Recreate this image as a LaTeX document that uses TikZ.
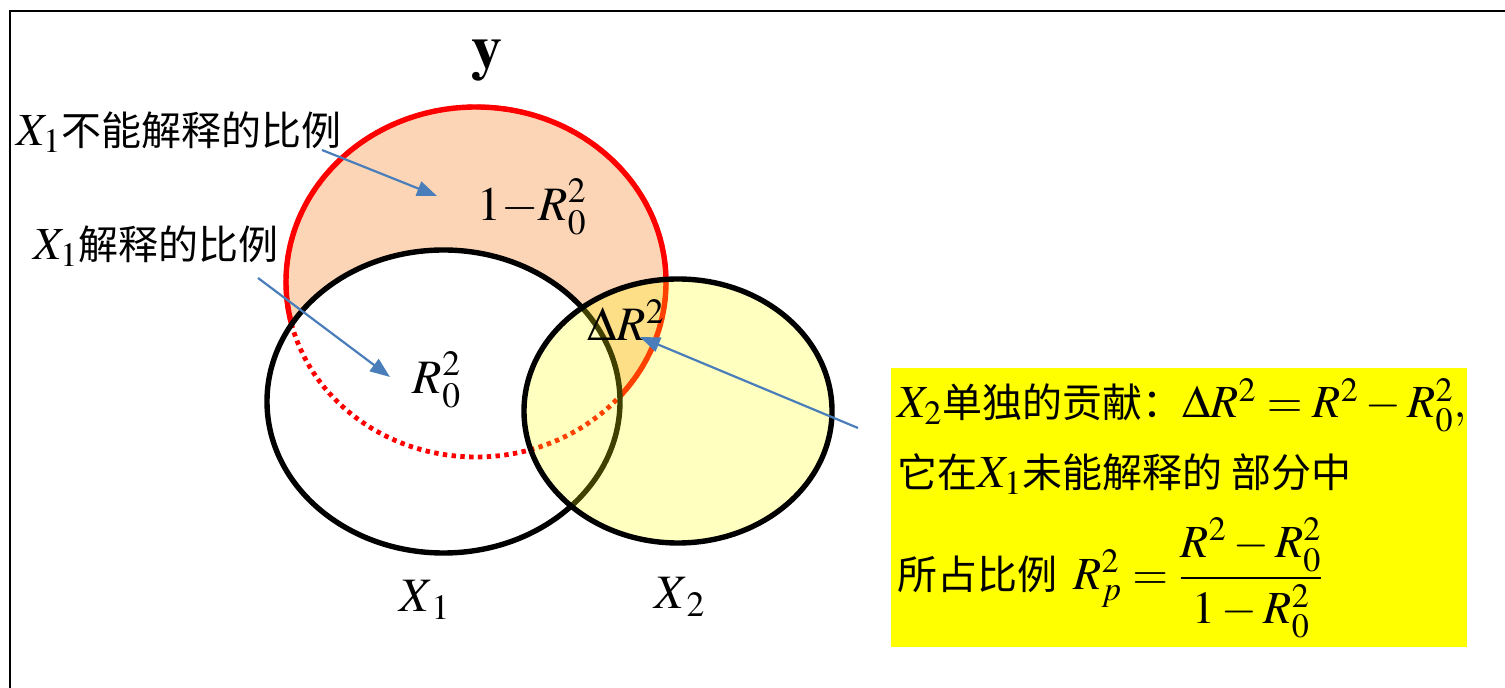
\documentclass[tikz,border=0pt]{standalone}
\usepackage{amsmath}
\usepackage{mathptmx}
\usepackage{fontspec}
\setmainfont{Liberation Serif}
\newfontfamily\cjk{Noto Sans CJK SC}
\usepackage{xcolor}
\usetikzlibrary{arrows.meta, positioning}

\definecolor{peach}{RGB}{251,213,181}
\definecolor{callblue}{RGB}{74,126,187}
\definecolor{noteyellow}{RGB}{255,255,0}
\newcommand{\mq}[1]{{\fontsize{23}{27}\selectfont$#1$}}

\begin{document}
\begin{tikzpicture}[x=0.5pt, y=-0.5pt,
  ring/.style={line width=2.7pt},
  cn/.style={font=\cjk\fontsize{20}{24}\selectfont, inner sep=0pt, anchor=west},
  sym/.style={font=\fontsize{24}{28}\selectfont, inner sep=0pt},
  pointer/.style={-{Triangle[length=10pt, width=7.5pt]}, callblue, line width=1.1pt}
]
\useasboundingbox (0,0) rectangle (1505,688);
\draw[line width=1.2pt] (10,688) -- (10,11) -- (1505,11);

% y circle, X1 on top of it
\fill[peach] (476,282) ellipse [x radius=95pt, y radius=87.5pt];
\fill[white] (443.5,401.5) ellipse [x radius=88.25pt, y radius=75.75pt];
\draw[red, line width=2.4pt, dash pattern=on 2.2pt off 2.2pt] (476,282) ellipse [x radius=95pt, y radius=87.5pt];
\begin{scope}[even odd rule]
  \clip (0,0) rectangle (1505,688) (443.5,401.5) ellipse [x radius=88.25pt, y radius=75.75pt];
  \draw[red, ring] (476,282) ellipse [x radius=95pt, y radius=87.5pt];
\end{scope}
\draw[ring] (443.5,401.5) ellipse [x radius=88.25pt, y radius=75.75pt];
% X2
\draw[ring, fill=noteyellow, fill opacity=0.25] (678,411) ellipse [x radius=77pt, y radius=66pt];

\node[sym, font=\fontsize{31}{34}\selectfont] (ylab) at (487,60) {$\mathbf{y}$};
\node[sym] (rest) at (532,207) {$1{-}R_0^2$};
\node[sym] (rzero) at (437,380) {$R_0^2$};
\node[sym] (delta) at (626,320) {$\Delta R^2$};
\node[sym] (xone) at (425,600) {$X_{\,1}$};
\node[sym] (xtwo) at (680,597) {$X_{\,2}$};

\node[cn] (unexpl) at (16,132) {\mq{X_1}不能解释的比例};
\node[cn] (expl) at (33,246) {\mq{X_1}解释的比例};

% callouts
\coordinate (p1) at (322,150);
\coordinate (q1) at (437,196);
\coordinate (p2) at (258,278);
\coordinate (q2) at (390,377);
\coordinate (p3) at (858,428);
\coordinate (q3) at (640,337);
\draw[pointer] (p1) -- (q1);
\draw[pointer] (p2) -- (q2);
\draw[pointer] (p3) -- (q3);

\node[fill=noteyellow, minimum width=288pt, minimum height=139.5pt, inner sep=0pt, anchor=north west] (note) at (891,368) {};
\node[cn] (line1) at (897,405) {\mq{X_2}单独的贡献：\mq{\Delta R^2 = R^2 - R_0^2,}};
\node[cn] (line2) at (897,474) {它在\mq{X_1}未能解释的 部分中};
\node[cn] (line3) at (897,578) {所占比例\hspace{8pt}\mq{R_p^2 = \dfrac{R^2 - R_0^2}{1 - R_0^2}}};
\end{tikzpicture}
\end{document}
